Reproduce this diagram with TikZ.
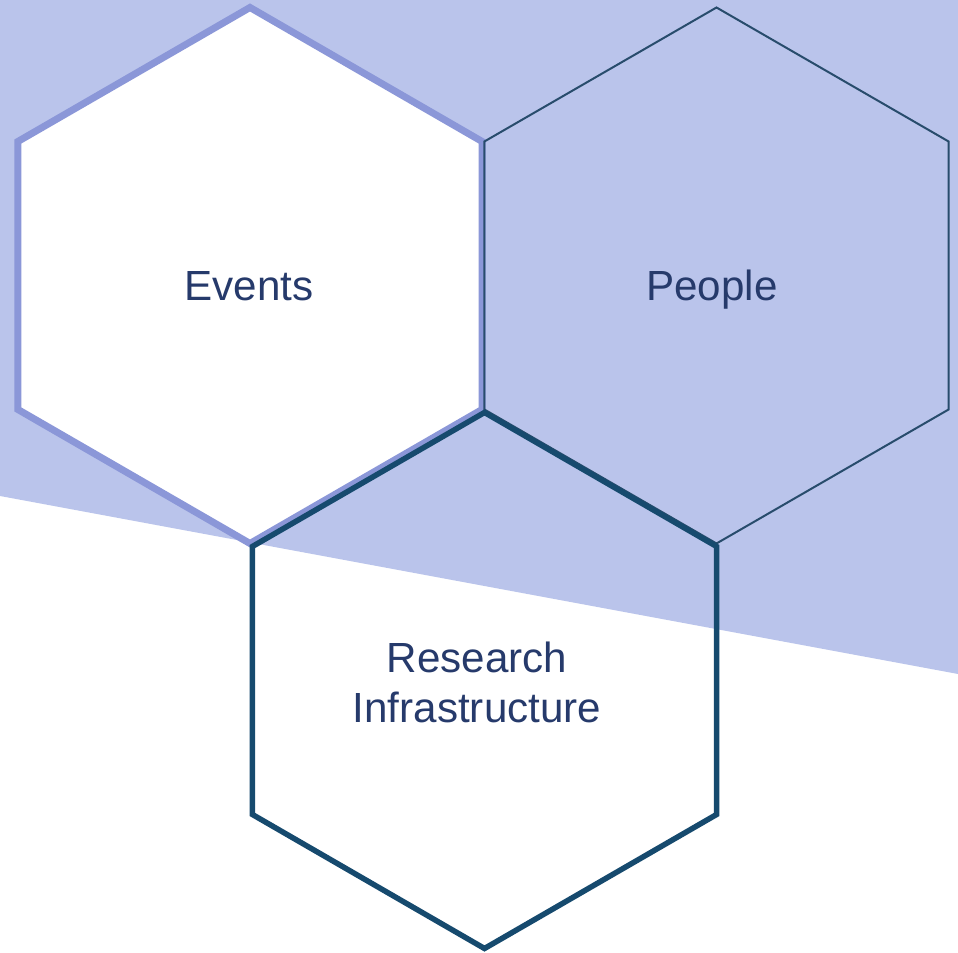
\documentclass[tikz,border=0pt]{standalone}
\usepackage{fontspec}
\setmainfont{Liberation Sans}
\usepackage{tikz}
\definecolor{backblue}{RGB}{186,196,235}
\definecolor{eventsline}{RGB}{139,151,216}
\definecolor{peopleline}{RGB}{40,76,108}
\definecolor{researchline}{RGB}{22,74,110}
\definecolor{labelblue}{RGB}{38,58,107}
\tikzset{
	hexlabel/.style={text=labelblue, font=\fontsize{24}{29}\selectfont, anchor=base, align=center, inner sep=0pt},
	eventshex/.style={line width=0.14cm, color=eventsline, fill=white, line join=miter},
	peoplehex/.style={line width=0.04cm, color=peopleline, line join=miter},
	researchhex/.style={line width=0.11cm, color=researchline, line join=miter}
}
\begin{document}
\begin{tikzpicture}[x=0.02cm, y=0.02cm]

			\useasboundingbox (0,0) rectangle (958,953);
			
			% background band
			\fill[color=backblue] (0,953)--(958,953)--(958,279)--(0,457)--cycle;
			
			\coordinate (events) at (250,677.5);
			\coordinate (people) at (716.5,677.5);
			\coordinate (research) at (484.5,272.5);
			
			\draw[eventshex] (events) +(90:268)--+(30:268)--+(-30:268)--+(-90:268)--+(-150:268)--+(150:268)--cycle;
			\draw[peoplehex] (people) +(90:268)--+(30:268)--+(-30:268)--+(-90:268)--+(-150:268)--+(150:268)--cycle;
			\draw[researchhex] (research) +(90:268)--+(30:268)--+(-30:268)--+(-90:268)--+(-150:268)--+(150:268)--cycle;
			
			\node[hexlabel] (eventstext) at (249,652) {Events};
			\node[hexlabel] (peopletext) at (712,652) {People};
			\node[hexlabel] (researchtext) at (477,230) {Research\\Infrastructure};

\end{tikzpicture}
\end{document}
